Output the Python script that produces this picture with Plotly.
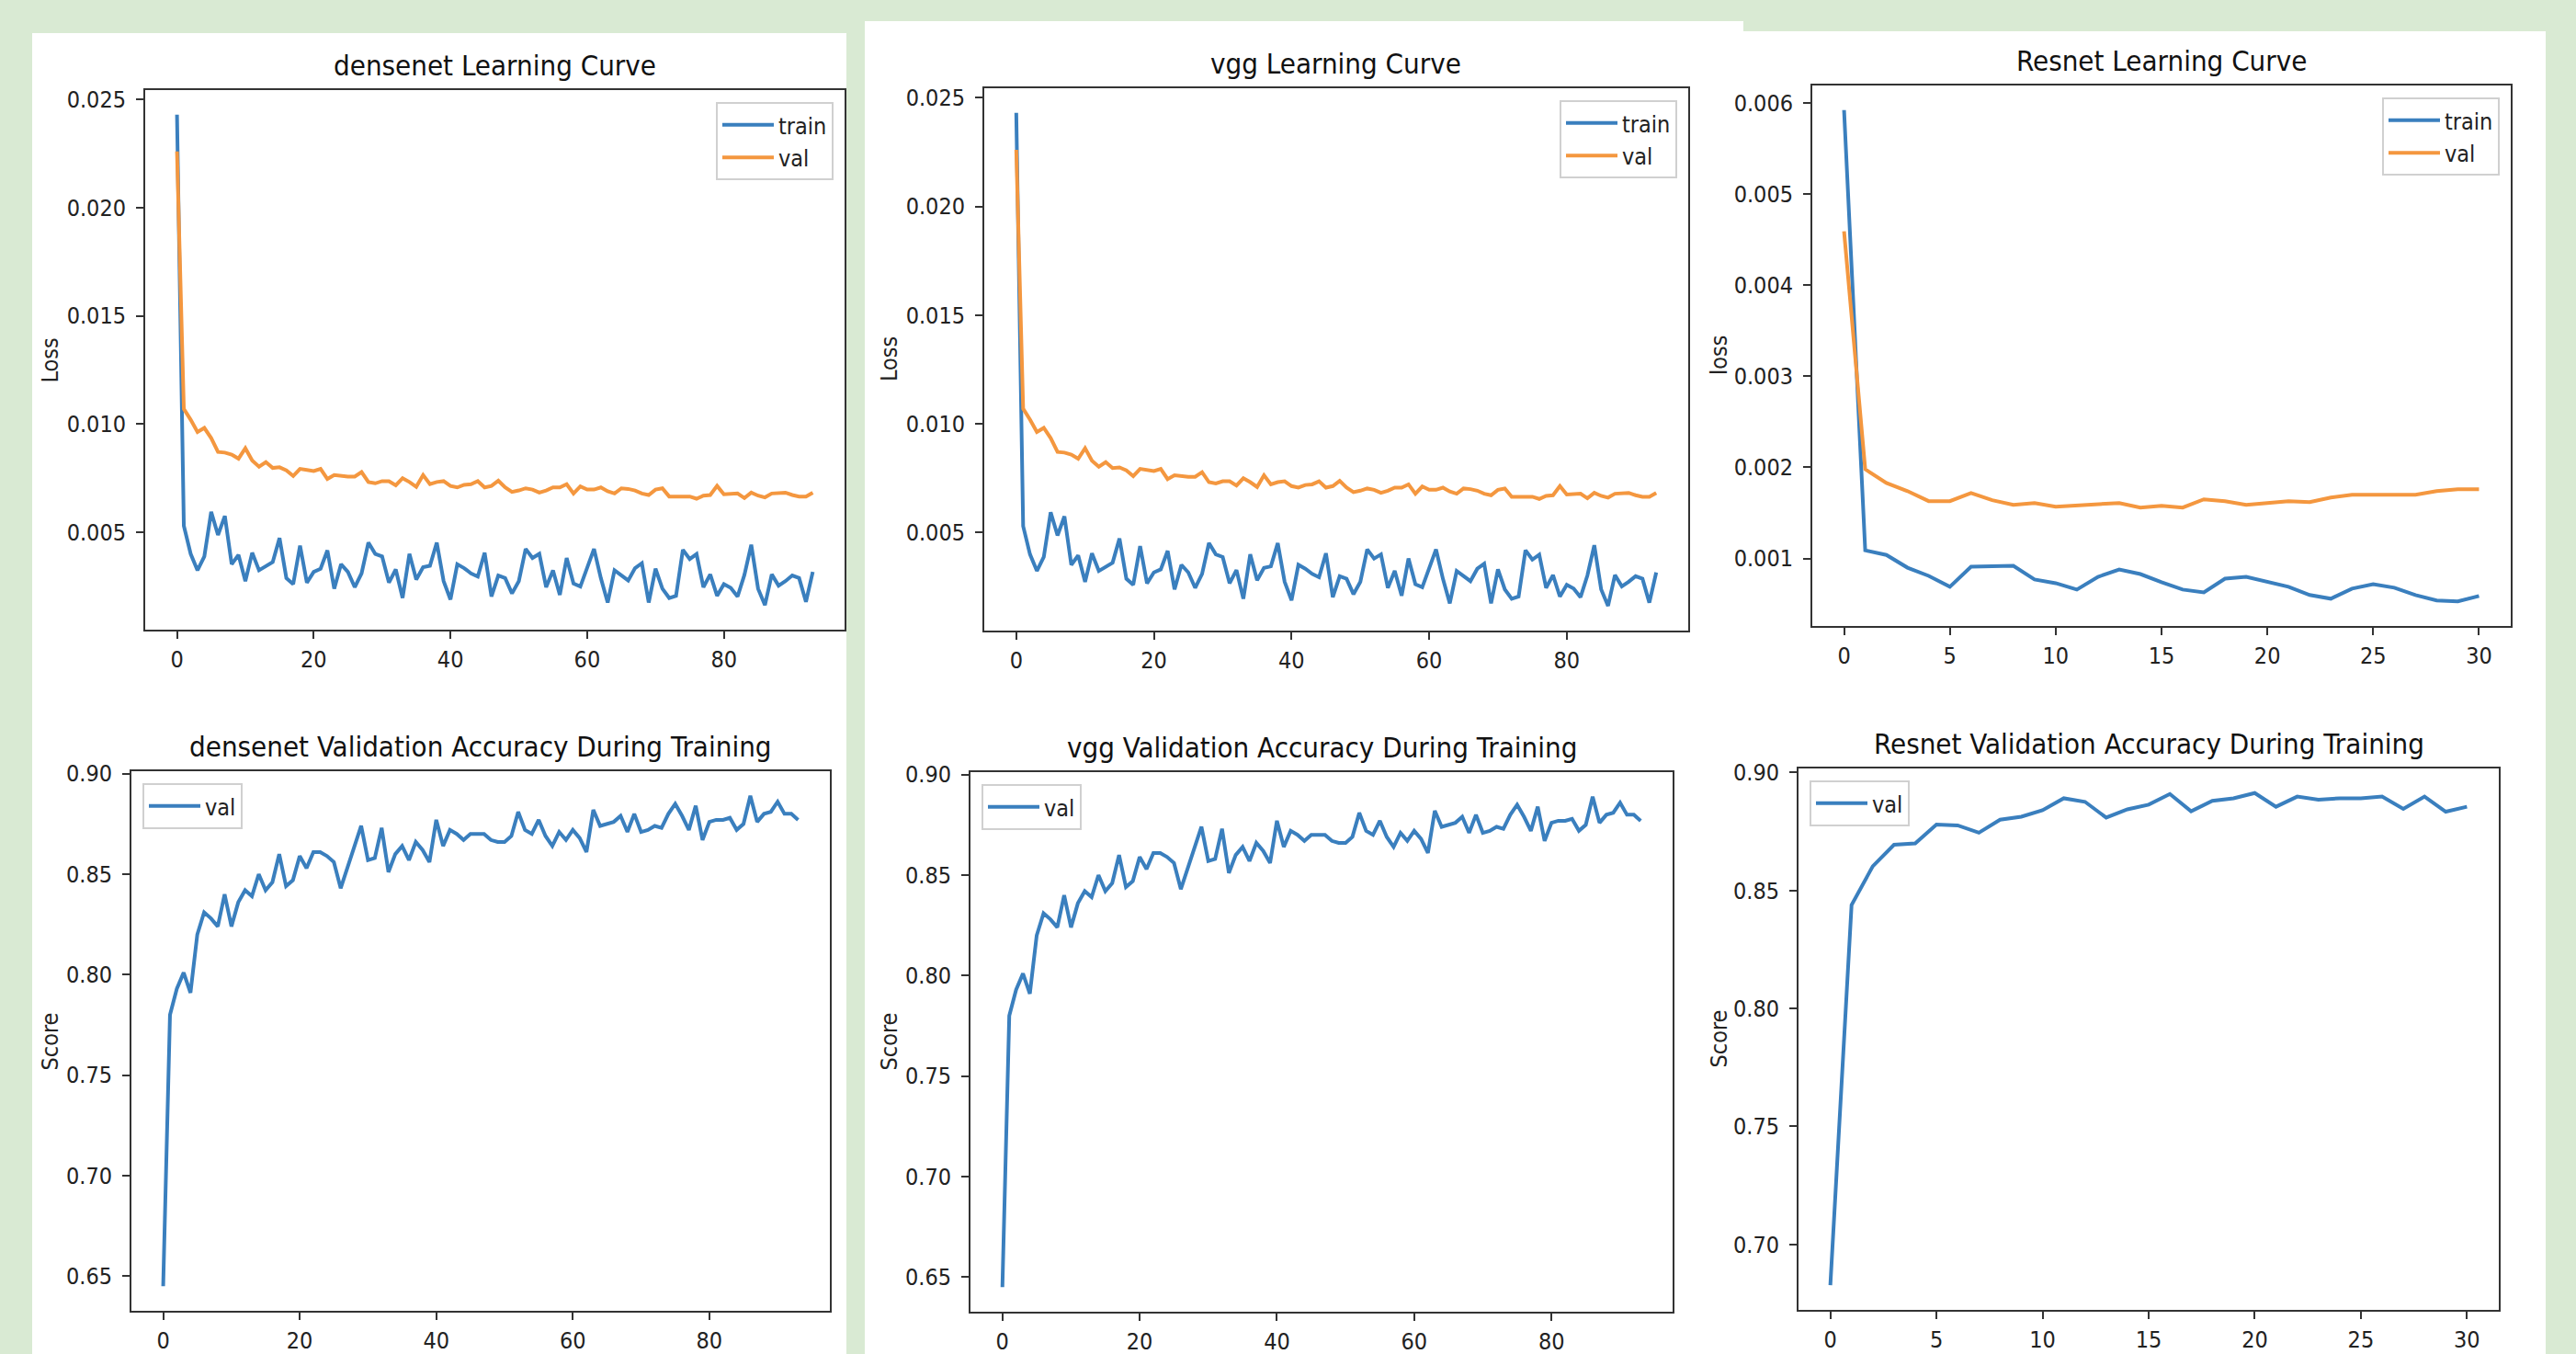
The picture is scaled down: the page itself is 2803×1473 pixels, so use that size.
import plotly.graph_objects as go

W, H = 2803, 1473

# ---------------- data ----------------
epochs_long = list(range(94))
epochs_short = list(range(31))

densenet_train_loss = [
    0.0243, 0.0053, 0.0040, 0.00324, 0.00388, 0.00594, 0.00487, 0.00575, 0.00352, 0.00395,
    0.00274, 0.00405, 0.00324, 0.00345, 0.00362, 0.00473, 0.00288, 0.00260, 0.00438, 0.00267,
    0.00317, 0.00331, 0.00416, 0.00239, 0.00352, 0.00317, 0.00246, 0.00310, 0.00452, 0.00400,
    0.00388, 0.00267, 0.00328, 0.00196, 0.00400, 0.00281, 0.00338, 0.00345, 0.00452, 0.00274,
    0.00189, 0.00352, 0.00334, 0.00310, 0.00295, 0.00405, 0.00203, 0.00300, 0.00288, 0.00217,
    0.00274, 0.00423, 0.00381, 0.00400, 0.00246, 0.00324, 0.00210, 0.00381, 0.00263, 0.00249,
    0.00331, 0.00423, 0.00288, 0.00175, 0.00324, 0.00300, 0.00277, 0.00334, 0.00357, 0.00175,
    0.00331, 0.00239, 0.00196, 0.00206, 0.00419, 0.00376, 0.00399, 0.00246, 0.00305, 0.00206,
    0.00260, 0.00243, 0.00203, 0.00303, 0.00442, 0.00239, 0.00163, 0.00305, 0.00253, 0.00274,
    0.00300, 0.00288, 0.00178, 0.00317,
]
densenet_val_loss = [
    0.0226, 0.0107, 0.0102, 0.00963, 0.00982, 0.00935, 0.00871, 0.00868, 0.00859, 0.00840,
    0.00888, 0.00831, 0.00803, 0.00824, 0.00797, 0.00800, 0.00786, 0.00760, 0.00793, 0.00788,
    0.00783, 0.00793, 0.00746, 0.00764, 0.00760, 0.00757, 0.00757, 0.00778, 0.00732, 0.00726,
    0.00736, 0.00736, 0.00717, 0.00750, 0.00732, 0.00710, 0.00764, 0.00722, 0.00732, 0.00736,
    0.00714, 0.00707, 0.00719, 0.00722, 0.00736, 0.00707, 0.00714, 0.00738, 0.00707, 0.00686,
    0.00693, 0.00703, 0.00697, 0.00683, 0.00693, 0.00707, 0.00707, 0.00722, 0.00679, 0.00712,
    0.00697, 0.00697, 0.00707, 0.00689, 0.00679, 0.00703, 0.00700, 0.00693, 0.00679, 0.00672,
    0.00697, 0.00703, 0.00665, 0.00665, 0.00661, 0.00665, 0.00655, 0.00669, 0.00672, 0.00714,
    0.00675, 0.00675, 0.00679, 0.00658, 0.00683, 0.00669, 0.00661, 0.00679, 0.00679, 0.00683,
    0.00672, 0.00665, 0.00665, 0.00683,
]
densenet_val_acc = [
    0.645, 0.780, 0.793, 0.801, 0.791, 0.820, 0.831, 0.828, 0.824, 0.840,
    0.824, 0.836, 0.842, 0.839, 0.850, 0.842, 0.846, 0.860, 0.844, 0.847,
    0.859, 0.853, 0.861, 0.861, 0.859, 0.856, 0.843, 0.853, 0.864, 0.874,
    0.857, 0.858, 0.873, 0.851, 0.860, 0.864, 0.857, 0.866, 0.862, 0.856,
    0.877, 0.864, 0.872, 0.870, 0.867, 0.870, 0.870, 0.870, 0.867, 0.866,
    0.866, 0.869, 0.881, 0.872, 0.870, 0.877, 0.869, 0.864, 0.871, 0.867,
    0.872, 0.868, 0.861, 0.882, 0.874, 0.875, 0.876, 0.879, 0.871, 0.880,
    0.871, 0.872, 0.874, 0.873, 0.880, 0.885, 0.879, 0.872, 0.884, 0.867,
    0.876, 0.877, 0.877, 0.878, 0.872, 0.875, 0.889, 0.876, 0.880, 0.881,
    0.886, 0.880, 0.880, 0.877,
]

vgg_train_loss = [
    0.0243, 0.0053, 0.0040, 0.00324, 0.00388, 0.00594, 0.00487, 0.00575, 0.00352, 0.00395,
    0.00274, 0.00405, 0.00324, 0.00345, 0.00362, 0.00473, 0.00288, 0.00260, 0.00438, 0.00267,
    0.00317, 0.00331, 0.00416, 0.00239, 0.00352, 0.00317, 0.00246, 0.00310, 0.00452, 0.00400,
    0.00388, 0.00267, 0.00328, 0.00196, 0.00400, 0.00281, 0.00338, 0.00345, 0.00452, 0.00274,
    0.00189, 0.00352, 0.00334, 0.00310, 0.00295, 0.00405, 0.00203, 0.00300, 0.00288, 0.00217,
    0.00274, 0.00423, 0.00381, 0.00400, 0.00246, 0.00324, 0.00210, 0.00381, 0.00263, 0.00249,
    0.00331, 0.00423, 0.00288, 0.00175, 0.00324, 0.00300, 0.00277, 0.00334, 0.00357, 0.00175,
    0.00331, 0.00239, 0.00196, 0.00206, 0.00419, 0.00376, 0.00399, 0.00246, 0.00305, 0.00206,
    0.00260, 0.00243, 0.00203, 0.00303, 0.00442, 0.00239, 0.00163, 0.00305, 0.00253, 0.00274,
    0.00300, 0.00288, 0.00178, 0.00317,
]
vgg_val_loss = [
    0.0226, 0.0107, 0.0102, 0.00963, 0.00982, 0.00935, 0.00871, 0.00868, 0.00859, 0.00840,
    0.00888, 0.00831, 0.00803, 0.00824, 0.00797, 0.00800, 0.00786, 0.00760, 0.00793, 0.00788,
    0.00783, 0.00793, 0.00746, 0.00764, 0.00760, 0.00757, 0.00757, 0.00778, 0.00732, 0.00726,
    0.00736, 0.00736, 0.00717, 0.00750, 0.00732, 0.00710, 0.00764, 0.00722, 0.00732, 0.00736,
    0.00714, 0.00707, 0.00719, 0.00722, 0.00736, 0.00707, 0.00714, 0.00738, 0.00707, 0.00686,
    0.00693, 0.00703, 0.00697, 0.00683, 0.00693, 0.00707, 0.00707, 0.00722, 0.00679, 0.00712,
    0.00697, 0.00697, 0.00707, 0.00689, 0.00679, 0.00703, 0.00700, 0.00693, 0.00679, 0.00672,
    0.00697, 0.00703, 0.00665, 0.00665, 0.00661, 0.00665, 0.00655, 0.00669, 0.00672, 0.00714,
    0.00675, 0.00675, 0.00679, 0.00658, 0.00683, 0.00669, 0.00661, 0.00679, 0.00679, 0.00683,
    0.00672, 0.00665, 0.00665, 0.00683,
]
vgg_val_acc = [
    0.645, 0.780, 0.793, 0.801, 0.791, 0.820, 0.831, 0.828, 0.824, 0.840,
    0.824, 0.836, 0.842, 0.839, 0.850, 0.842, 0.846, 0.860, 0.844, 0.847,
    0.859, 0.853, 0.861, 0.861, 0.859, 0.856, 0.843, 0.853, 0.864, 0.874,
    0.857, 0.858, 0.873, 0.851, 0.860, 0.864, 0.857, 0.866, 0.862, 0.856,
    0.877, 0.864, 0.872, 0.870, 0.867, 0.870, 0.870, 0.870, 0.867, 0.866,
    0.866, 0.869, 0.881, 0.872, 0.870, 0.877, 0.869, 0.864, 0.871, 0.867,
    0.872, 0.868, 0.861, 0.882, 0.874, 0.875, 0.876, 0.879, 0.871, 0.880,
    0.871, 0.872, 0.874, 0.873, 0.880, 0.885, 0.879, 0.872, 0.884, 0.867,
    0.876, 0.877, 0.877, 0.878, 0.872, 0.875, 0.889, 0.876, 0.880, 0.881,
    0.886, 0.880, 0.880, 0.877,
]

resnet_train_loss = [
    0.00592, 0.00109, 0.00104, 0.00090, 0.00081, 0.00069, 0.00091, 0.00092, 0.00092, 0.00077,
    0.00073, 0.00066, 0.00080, 0.00088, 0.00083, 0.00074, 0.00066, 0.00063, 0.00078, 0.00080,
    0.00075, 0.00069, 0.00060, 0.00056, 0.00067, 0.00072, 0.00068, 0.00060, 0.00054, 0.00053,
    0.00059,
]
resnet_val_loss = [
    0.00459, 0.00198, 0.00183, 0.00174, 0.00163, 0.00163, 0.00172, 0.00164, 0.00159, 0.00161,
    0.00157, 0.00158, 0.00160, 0.00161, 0.00156, 0.00158, 0.00156, 0.00165, 0.00163, 0.00159,
    0.00161, 0.00163, 0.00162, 0.00167, 0.00170, 0.00170, 0.00169, 0.00170, 0.00174, 0.00176,
    0.00176,
]
resnet_val_acc = [
    0.6827, 0.8439, 0.8603, 0.8694, 0.8700, 0.8780, 0.8776, 0.8745, 0.8800, 0.8813,
    0.8840, 0.8891, 0.8876, 0.8809, 0.8844, 0.8864, 0.8909, 0.8836, 0.8880, 0.8891,
    0.8913, 0.8855, 0.8898, 0.8885, 0.8891, 0.8891, 0.8898, 0.8846, 0.8898, 0.8834,
    0.8855,
]

titles = [
    "densenet Learning Curve", "densenet Validation Accuracy During Training",
    "vgg Learning Curve", "vgg Validation Accuracy During Training",
    "Resnet Learning Curve", "Resnet Validation Accuracy During Training",
]
ylabels = ["Loss", "Score", "Loss", "Score", "loss", "Score"]

# ---------------- style ----------------
GREEN = "#d9ead3"
BLUE = "#3a7fbe"
ORANGE = "#f4973f"
AX = "#333333"
FONT = "DejaVu Sans Condensed, DejaVu Sans"
TICK_SIZE = 25
TITLE_SIZE = 31
LW = 4

# axes boxes in pixels: left, right, top, bottom
boxes = [
    (158, 919, 98, 685),
    (143, 903, 839, 1426),
    (1071, 1837, 96, 686),
    (1056, 1820, 840, 1427),
    (1972, 2732, 93, 681),
    (1957, 2719, 836, 1425),
]
# distance from axes left edge to the centre of the y-axis label
ylabel_offset = [104, 89, 104, 89, 102, 87]
# white panels: left, right, top
panels = [(35, 921, 36), (941, 1897, 23), (1897, 2770, 34)]

fig = go.Figure()

subplots = [
    (epochs_long, [("train", densenet_train_loss, BLUE), ("val", densenet_val_loss, ORANGE)], "right", ".3f", 0.005, 20),
    (epochs_long, [("val", densenet_val_acc, BLUE)], "left", ".2f", 0.05, 20),
    (epochs_long, [("train", vgg_train_loss, BLUE), ("val", vgg_val_loss, ORANGE)], "right", ".3f", 0.005, 20),
    (epochs_long, [("val", vgg_val_acc, BLUE)], "left", ".2f", 0.05, 20),
    (epochs_short, [("train", resnet_train_loss, BLUE), ("val", resnet_val_loss, ORANGE)], "right", ".3f", 0.001, 5),
    (epochs_short, [("val", resnet_val_acc, BLUE)], "left", ".2f", 0.05, 5),
]

layout = dict(
    width=W, height=H,
    margin=dict(l=0, r=0, t=0, b=0, pad=0, autoexpand=False),
    paper_bgcolor=GREEN,
    plot_bgcolor="white",
    font=dict(family=FONT, size=TICK_SIZE, color="#222222"),
    showlegend=True,
)
annotations = []
shapes = []

for (pl, pr, pt) in panels:
    shapes.append(dict(type="rect", xref="paper", yref="paper", layer="below",
                       x0=pl / W, x1=pr / W, y0=0, y1=1 - pt / H,
                       fillcolor="white", line=dict(width=0)))

for i, (xs, series, legpos, yfmt, ydt, xdt) in enumerate(subplots):
    n = i + 1
    sfx = "" if n == 1 else str(n)
    left, right, top, bottom = boxes[i]
    legname = "legend" + sfx
    for name, ys, col in series:
        fig.add_trace(go.Scatter(
            x=xs, y=ys, mode="lines", name=name,
            line=dict(color=col, width=LW),
            xaxis="x" + sfx, yaxis="y" + sfx, legend=legname,
            legendgroup=f"{legname}_{name}", showlegend=True,
        ))
    allv = [v for _, ys, _ in series for v in ys]
    ymin, ymax = min(allv), max(allv)
    pad = 0.05 * (ymax - ymin)
    xmin, xmax = min(xs), max(xs)
    xpad = 0.05 * (xmax - xmin)
    common = dict(showgrid=False, zeroline=False, showline=True, mirror=True,
                  linecolor=AX, linewidth=2, ticks="outside", ticklen=8,
                  tickwidth=2, tickcolor=AX, automargin=False,
                  tickfont=dict(family=FONT, size=TICK_SIZE, color="#222222"))
    layout["xaxis" + sfx] = dict(
        domain=[left / W, right / W], anchor="y" + sfx,
        range=[xmin - xpad, xmax + xpad], tick0=0, dtick=xdt,
        ticklabelstandoff=1, **common)
    layout["yaxis" + sfx] = dict(
        domain=[1 - bottom / H, 1 - top / H], anchor="x" + sfx,
        range=[ymin - pad, ymax + pad], tick0=0, dtick=ydt, tickformat=yfmt,
        ticklabelstandoff=6, **common)
    if legpos == "right":
        lx, xa = (right - 12) / W, "right"
    else:
        lx, xa = (left + 12) / W, "left"
    layout[legname] = dict(
        x=lx, xanchor=xa, y=1 - (top + 13) / H, yanchor="top",
        bgcolor="rgba(255,255,255,0.8)", bordercolor="#d0d0d0", borderwidth=2,
        font=dict(family=FONT, size=TICK_SIZE, color="#222222"),
        itemwidth=56, tracegroupgap=6, traceorder="normal",
    )
    # subplot title
    annotations.append(dict(
        text=titles[i], xref="paper", yref="paper",
        x=(left + right) / 2 / W, y=1 - (top - 27) / H,
        xanchor="center", yanchor="middle", showarrow=False,
        font=dict(family=FONT, size=TITLE_SIZE, color="#111111"),
    ))
    # y-axis label
    annotations.append(dict(
        text=ylabels[i], xref="paper", yref="paper",
        x=(left - ylabel_offset[i]) / W, y=1 - (top + bottom) / 2 / H,
        xanchor="center", yanchor="middle", showarrow=False, textangle=-90,
        font=dict(family=FONT, size=TICK_SIZE, color="#222222"),
    ))

layout["annotations"] = annotations
layout["shapes"] = shapes
fig.update_layout(**layout)

fig.write_html(
    "out.html",
    config={"displayModeBar": False},
    post_script="document.body.style.margin='0';document.body.style.overflow='hidden';",
)
